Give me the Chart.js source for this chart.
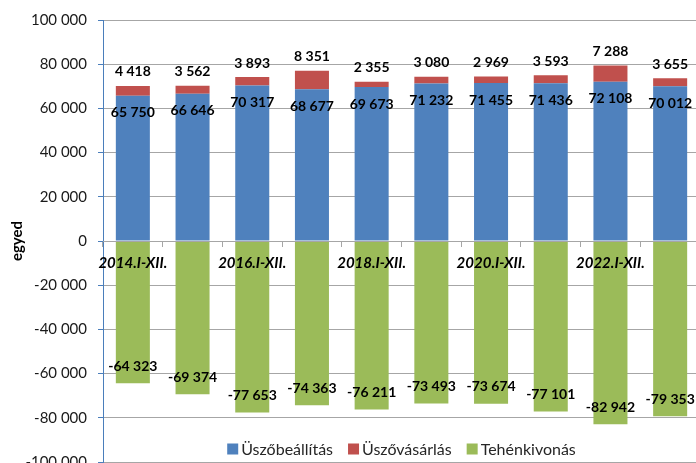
<!DOCTYPE html>
<html>
<head>
<meta charset="utf-8">
<script src="https://cdn.jsdelivr.net/npm/chart.js@4"></script>
<style>
  html, body { margin: 0; padding: 0; overflow: hidden; background: #fff; }
</style>
</head>
<body>
<canvas id="chart" width="700" height="482"></canvas>
<script>
// data
const categories = ['2014.I-XII.', '2015.I-XII.', '2016.I-XII.', '2017.I-XII.', '2018.I-XII.',
                    '2019.I-XII.', '2020.I-XII.', '2021.I-XII.', '2022.I-XII.', '2023.I-XII.'];
const uszobeallitas = [65750, 66646, 70317, 68677, 69673, 71232, 71455, 71436, 72108, 70012];
const uszovasarlas = [4418, 3562, 3893, 8351, 2355, 3080, 2969, 3593, 7288, 3655];
const tehenkivonas = [-64323, -69374, -77653, -74363, -76211, -73493, -73674, -77101, -82942, -79353];
const seriesNames = ['Üszőbeállítás', 'Üszővásárlás', 'Tehénkivonás'];
const seriesColors = ['#4f81bd', '#c0504d', '#9bbb59'];
const yMin = -100000, yMax = 100000, yStep = 20000;

const fmt = v => String(v).replace(/\B(?=(\d{3})+(?!\d))/g, ' ');

Chart.defaults.font.family = 'Lato';
Chart.defaults.color = '#1a1a1a';

// numbers on the bars
const valueLabels = {
  id: 'valueLabels',
  afterDatasetsDraw(chart) {
    const ctx = chart.ctx;
    ctx.save();
    ctx.font = 'bold 14px Lato';
    ctx.fillStyle = '#000';
    ctx.textAlign = 'center';
    ctx.textBaseline = 'middle';
    chart.data.datasets.forEach((ds, di) => {
      chart.getDatasetMeta(di).data.forEach((bar, i) => {
        let y;
        if (di === 0) y = bar.y + 17;       // inside, under the top
        else if (di === 1) y = bar.y - 14;  // above the stack
        else y = bar.y - 17;                // inside, over the bottom
        ctx.fillText(fmt(ds.data[i]), bar.x, y);
      });
    });
    ctx.restore();
  }
};

// legend sits inside the plot, near its bottom edge
const innerLegend = {
  id: 'innerLegend',
  afterDraw(chart) {
    const ctx = chart.ctx;
    const area = chart.chartArea;
    const box = 11, gap = 3, spacing = 15;
    ctx.save();
    ctx.font = '16px Lato';
    ctx.textBaseline = 'middle';
    const widths = seriesNames.map(n => box + gap + ctx.measureText(n).width);
    const total = widths.reduce((a, b) => a + b, 0) + spacing * (widths.length - 1);
    let x = (area.left + area.right) / 2 - total / 2;
    const y = area.bottom - 13;
    seriesNames.forEach((n, i) => {
      ctx.fillStyle = seriesColors[i];
      ctx.fillRect(x, y - box / 2, box, box);
      ctx.fillStyle = '#262626';
      ctx.fillText(n, x + box + gap, y + 1);
      x += widths[i] + spacing;
    });
    ctx.restore();
  }
};

new Chart(document.getElementById('chart'), {
  type: 'bar',
  data: {
    labels: categories,
    datasets: [
      { label: seriesNames[0], data: uszobeallitas, backgroundColor: seriesColors[0] },
      { label: seriesNames[1], data: uszovasarlas, backgroundColor: seriesColors[1] },
      { label: seriesNames[2], data: tehenkivonas, backgroundColor: seriesColors[2] }
    ]
  },
  options: {
    responsive: false,
    animation: false,
    layout: { padding: { top: 20, right: 0, bottom: 11, left: 0 } },
    datasets: { bar: { barPercentage: 0.57, categoryPercentage: 1 } },
    plugins: { legend: { display: false }, tooltip: { enabled: false } },
    scales: {
      x: {
        stacked: true,
        position: { y: 0 },
        border: { color: '#a6a6a6', z: 1 },
        grid: { offset: true, drawOnChartArea: false, drawTicks: true, tickLength: 5, color: '#a6a6a6', z: 1 },
        ticks: {
          z: 1,
          autoSkip: false, maxRotation: 0, padding: 8, color: '#000',
          font: { size: 15, weight: 'bold', style: 'italic' },
          callback: function (v, i) { return i % 2 === 0 ? this.getLabelForValue(v) : ''; }
        }
      },
      y: {
        stacked: true,
        min: yMin, max: yMax,
        border: { color: '#4a7ebb' },
        grid: { color: '#a6a6a6', tickColor: '#4a7ebb', tickLength: 5 },
        ticks: { stepSize: yStep, padding: 11, font: { size: 15 }, callback: v => fmt(v) },
        title: { display: true, text: 'egyed', color: '#000', font: { size: 15, weight: 'bold' }, padding: { top: 8, bottom: 0 } },
        afterFit(scale) { scale.width = 103; }
      }
    }
  },
  plugins: [valueLabels, innerLegend]
});
</script>
</body>
</html>
